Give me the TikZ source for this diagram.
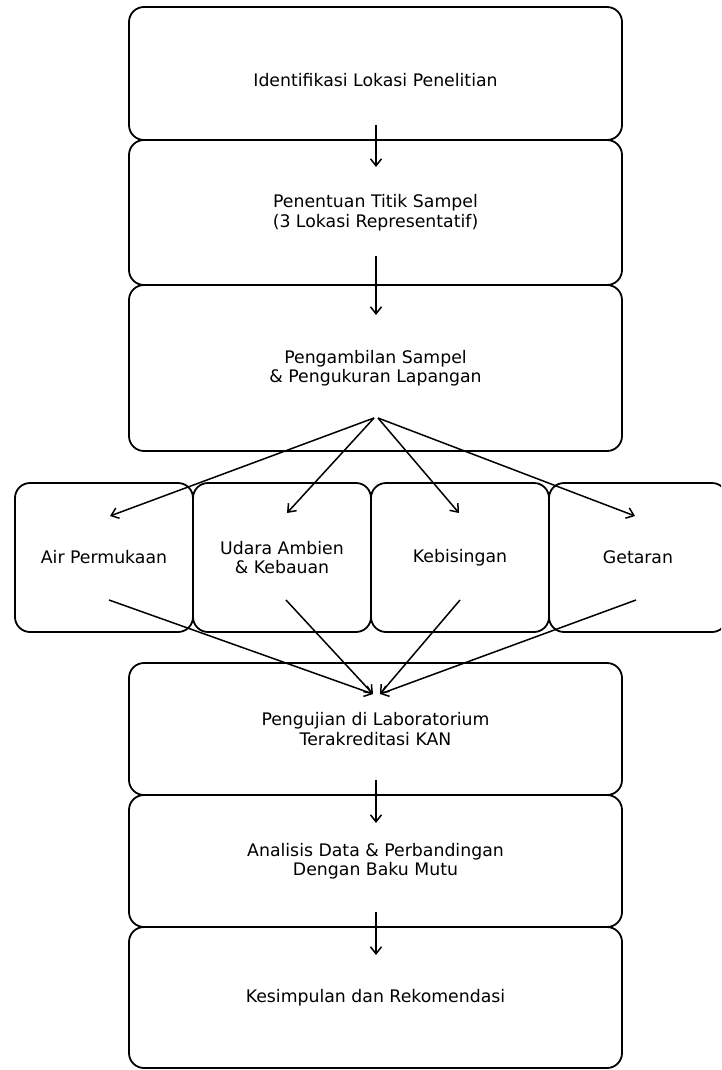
\documentclass[tikz,border=0pt]{standalone}
\usepackage{fontspec}
\setmainfont{DejaVu Sans}
\usetikzlibrary{arrows.meta,calc}
\tikzset{
  stepbox/.style={draw=black, line width=1.8pt, rounded corners=15pt, align=center,
    inner sep=0pt, outer sep=0pt, font=\fontsize{17.3}{19.5}\selectfont},
  flow/.style={line width=1.5pt, -{Straight Barb[length=7pt,width=11pt,line width=1.5pt]}}
}
\begin{document}
\begin{tikzpicture}[x=1pt,y=-1pt]
\useasboundingbox (0,0) rectangle (721,1070);
\begin{scope}
\clip (0,0) rectangle (721,1070);
% main column
\node[stepbox, minimum width=493pt, minimum height=133pt,
  label={[font=\fontsize{17.3}{19.5}\selectfont, yshift=-6.5pt]center:Identifikasi Lokasi Penelitian}] (n1) at (375.5,73.5) {};
\node[stepbox, minimum width=493pt, minimum height=145pt] (n2) at (375.5,212.5)
  {Penentuan Titik Sampel\\(3 Lokasi Representatif)};
\node[stepbox, minimum width=493pt, minimum height=166pt] (n3) at (375.5,368)
  {Pengambilan Sampel\\\& Pengukuran Lapangan};
% row
\node[stepbox, minimum width=178pt, minimum height=149pt] (a1) at (104,557.5) {Air Permukaan};
\node[stepbox, minimum width=178pt, minimum height=149pt] (a2) at (282,557.5) {Udara Ambien\\\& Kebauan};
\node[stepbox, minimum width=178pt, minimum height=149pt] (a3) at (460,557.5) {Kebisingan};
\node[stepbox, minimum width=178pt, minimum height=149pt] (a4) at (638,557.5) {Getaran};
% lower column
\node[stepbox, minimum width=493pt, minimum height=132pt] (n4) at (375.5,729)
  {Pengujian di Laboratorium\\Terakreditasi KAN};
\node[stepbox, minimum width=493pt, minimum height=132pt] (n5) at (375.5,861)
  {Analisis Data \& Perbandingan\\Dengan Baku Mutu};
\node[stepbox, minimum width=493pt, minimum height=141pt] (n6) at (375.5,997.5)
  {Kesimpulan dan Rekomendasi};
\end{scope}
% connectors
\draw[flow] ($(n1.south)+(0.5,-15)$) -- ($(n2.north)+(0.5,27)$);
\draw[flow] ($(n2.south)+(0.5,-29)$) -- ($(n3.north)+(0.5,30)$);
\draw[flow] ($(n3.south)+(-1.5,-33)$) -- ($(a1.north)+(6,33)$);
\draw[flow] ($(n3.south)+(-1.5,-33)$) -- ($(a2.north)+(5,30)$);
\draw[flow] ($(n3.south)+(2.5,-33)$) -- ($(a3.north)+(-1,30)$);
\draw[flow] ($(n3.south)+(2.5,-33)$) -- ($(a4.north)+(-3,33)$);
\draw[flow] ($(a1.south)+(5,-32)$) -- ($(n4.north)+(-2.5,31)$);
\draw[flow] ($(a2.south)+(4,-32)$) -- ($(n4.north)+(-2.5,31)$);
\draw[flow] ($(a3.south)+(0,-32)$) -- ($(n4.north)+(4.5,31)$);
\draw[flow] ($(a4.south)+(-2,-32)$) -- ($(n4.north)+(4.5,31)$);
\draw[flow] ($(n4.south)+(0.5,-15)$) -- ($(n5.north)+(0.5,28)$);
\draw[flow] ($(n5.south)+(0.5,-15)$) -- ($(n6.north)+(0.5,28)$);
\end{tikzpicture}
\end{document}
